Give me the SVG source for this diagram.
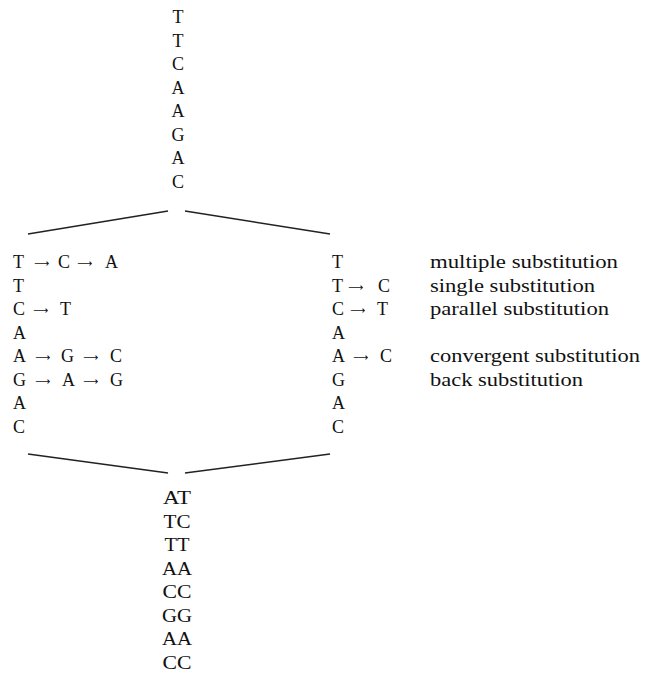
<svg xmlns="http://www.w3.org/2000/svg" width="645" height="682" viewBox="0 0 645 682">
  <style>
    text { font-family: "Liberation Serif", "DejaVu Serif", serif; font-size: 18px; fill: #111; }
    .mid { text-anchor: middle; }
    .arr { font-family: "DejaVu Sans", sans-serif; font-size: 10.5px; }
    .lbl { font-size: 18.5px; }
    .branch { stroke: #222; stroke-width: 1.6; fill: none; }
  </style>
  <rect width="645" height="682" fill="#fff"/>

  <!-- ancestral sequence -->
  <g id="ancestor">
    <text x="178" y="23" class="mid">T</text>
    <text x="178" y="46.5" class="mid">T</text>
    <text x="178" y="70" class="mid">C</text>
    <text x="178" y="93.5" class="mid">A</text>
    <text x="178" y="117" class="mid">A</text>
    <text x="178" y="140.5" class="mid">G</text>
    <text x="178" y="164" class="mid">A</text>
    <text x="178" y="187.5" class="mid">C</text>
  </g>

  <!-- left lineage -->
  <g id="left-lineage">
    <text y="268"><tspan x="13">T</tspan><tspan x="34" dy="-1" class="arr">⟶</tspan><tspan x="58" dy="1">C</tspan><tspan x="77" dy="-1" class="arr">⟶</tspan><tspan x="105" dy="1">A</tspan></text>
    <text x="13" y="291.5">T</text>
    <text y="315"><tspan x="13">C</tspan><tspan x="33" dy="-1" class="arr">⟶</tspan><tspan x="60" dy="1">T</tspan></text>
    <text x="13" y="338.5">A</text>
    <text y="362"><tspan x="13">A</tspan><tspan x="35" dy="-1" class="arr">⟶</tspan><tspan x="61" dy="1">G</tspan><tspan x="83" dy="-1" class="arr">⟶</tspan><tspan x="110" dy="1">C</tspan></text>
    <text y="385.5"><tspan x="13">G</tspan><tspan x="35" dy="-1" class="arr">⟶</tspan><tspan x="62" dy="1">A</tspan><tspan x="83" dy="-1" class="arr">⟶</tspan><tspan x="110" dy="1">G</tspan></text>
    <text x="13" y="409">A</text>
    <text x="13" y="432.5">C</text>
  </g>

  <!-- right lineage -->
  <g id="right-lineage">
    <text x="332" y="268">T</text>
    <text y="291.5"><tspan x="332">T</tspan><tspan x="348" dy="-1" class="arr">⟶</tspan><tspan x="378" dy="1">C</tspan></text>
    <text y="315"><tspan x="332">C</tspan><tspan x="350" dy="-1" class="arr">⟶</tspan><tspan x="377" dy="1">T</tspan></text>
    <text x="332" y="338.5">A</text>
    <text y="362"><tspan x="332">A</tspan><tspan x="353" dy="-1" class="arr">⟶</tspan><tspan x="380" dy="1">C</tspan></text>
    <text x="332" y="385.5">G</text>
    <text x="332" y="409">A</text>
    <text x="332" y="432.5">C</text>
  </g>

  <!-- substitution types -->
  <g id="labels">
    <text x="430" y="268" class="lbl" textLength="188" lengthAdjust="spacingAndGlyphs">multiple substitution</text>
    <text x="430" y="291.5" class="lbl" textLength="165" lengthAdjust="spacingAndGlyphs">single substitution</text>
    <text x="430" y="315" class="lbl" textLength="179" lengthAdjust="spacingAndGlyphs">parallel substitution</text>
    <text x="430" y="362" class="lbl" textLength="210" lengthAdjust="spacingAndGlyphs">convergent substitution</text>
    <text x="430" y="385.5" class="lbl" textLength="153" lengthAdjust="spacingAndGlyphs">back substitution</text>
  </g>

  <!-- descendant pairs -->
  <g id="descendants">
    <text x="177" y="504" class="mid" textLength="28" lengthAdjust="spacingAndGlyphs">AT</text>
    <text x="177" y="527.5" class="mid" textLength="27" lengthAdjust="spacingAndGlyphs">TC</text>
    <text x="177" y="551" class="mid" textLength="25" lengthAdjust="spacingAndGlyphs">TT</text>
    <text x="177" y="574.5" class="mid" textLength="30" lengthAdjust="spacingAndGlyphs">AA</text>
    <text x="177" y="598" class="mid" textLength="29" lengthAdjust="spacingAndGlyphs">CC</text>
    <text x="177" y="621.5" class="mid" textLength="30" lengthAdjust="spacingAndGlyphs">GG</text>
    <text x="177" y="645" class="mid" textLength="30" lengthAdjust="spacingAndGlyphs">AA</text>
    <text x="177" y="668.5" class="mid" textLength="29" lengthAdjust="spacingAndGlyphs">CC</text>
  </g>

  <!-- tree branches -->
  <g id="connectors" class="branch">
    <line x1="168" y1="211" x2="28" y2="234"/>
    <line x1="185" y1="211" x2="330" y2="234"/>
    <line x1="28" y1="454" x2="168" y2="473"/>
    <line x1="185" y1="473" x2="330" y2="454"/>
  </g>
</svg>
